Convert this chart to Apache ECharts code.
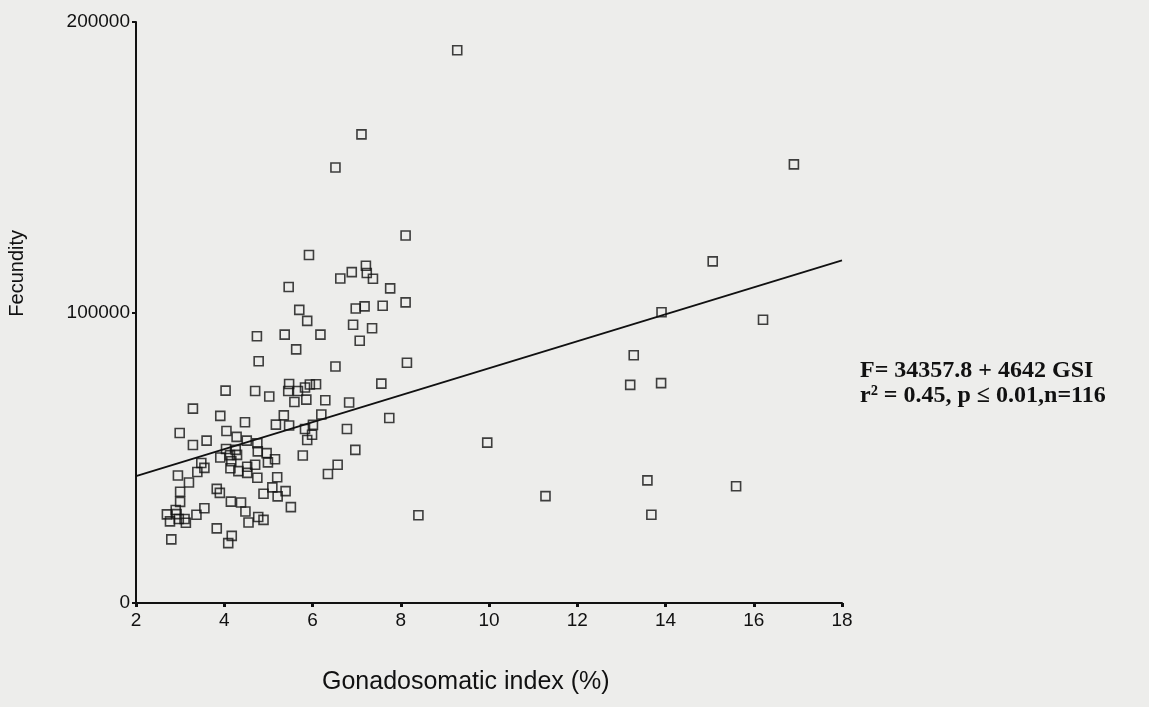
<!DOCTYPE html>
<html>
<head>
<meta charset="utf-8">
<script src="https://cdn.jsdelivr.net/npm/echarts@6/dist/echarts.min.js"></script>
<style>
	html, body { margin: 0; padding: 0; background: #ededeb; }
	#chart { width: 1149px; height: 707px; }
</style>
</head>
<body>
<div id="chart"></div>
<script>
// GSI (%) of each fish
var gsi = [
	9.28, 16.91, 7.11, 6.52, 8.11, 5.92, 5.46, 6.63, 6.89, 7.21,
	7.23, 7.37, 7.76, 5.70, 6.98, 7.18, 7.59, 8.11, 5.88, 6.92,
	7.35, 5.37, 6.18, 7.07, 5.63, 6.52, 8.14, 15.07, 13.91, 16.21,
	13.28, 13.20, 13.90, 9.96, 13.59, 15.60, 11.28, 8.40, 13.68, 4.74,
	4.78, 4.03, 4.70, 5.47, 5.45, 5.67, 5.83, 5.94, 6.08, 7.56,
	5.02, 5.59, 3.29, 3.91, 5.35, 4.47, 5.17, 5.47, 2.99, 4.05,
	3.60, 3.29, 4.28, 4.51, 4.75, 4.04, 4.26, 4.29, 3.91, 4.13,
	4.76, 4.96, 4.99, 5.15, 4.16, 3.48, 3.55, 3.39, 4.14, 4.32,
	4.52, 4.70, 4.52, 2.95, 3.20, 4.75, 5.20, 3.00, 3.83, 3.90,
	4.89, 5.09, 5.21, 5.39, 3.00, 4.15, 4.38, 2.90, 3.55, 3.37,
	4.48, 5.51, 2.70, 2.92, 2.77, 2.97, 3.10, 3.13, 4.77, 4.89,
	4.55, 3.83, 4.17, 4.09, 2.80, 5.86, 6.29, 6.83, 6.20, 7.74,
	5.83, 6.01, 6.78, 5.99, 5.88, 6.97, 5.78, 6.57, 6.35
];

// fecundity, same order as gsi
var fecundity = [
	190300, 151000, 161300, 149900, 126500, 119800, 108800, 111700, 113900, 116100,
	113600, 111600, 108300, 100900, 101400, 102100, 102300, 103500, 97100, 95800,
	94600, 92400, 92400, 90300, 87300, 81400, 82700, 117600, 100100, 97500,
	85300, 75100, 75700, 55200, 42200, 40200, 36800, 30200, 30400, 91800,
	83200, 73100, 73000, 75400, 73000, 73000, 74200, 75200, 75300, 75500,
	71100, 69200, 66900, 64400, 64600, 62200, 61400, 61100, 58500, 59200,
	55900, 54400, 57200, 55900, 55000, 53000, 52700, 51000, 50100, 50900,
	52200, 51600, 48400, 49500, 48800, 48200, 46500, 45100, 46400, 45400,
	46900, 47600, 44800, 43900, 41500, 43100, 43300, 38300, 39300, 37900,
	37600, 39800, 36700, 38500, 34800, 34900, 34600, 32000, 32600, 30400,
	31500, 33000, 30500, 30600, 28100, 28900, 28900, 27600, 29600, 28600,
	27700, 25700, 23100, 20600, 21900, 70000, 69800, 69000, 64900, 63700,
	59900, 61300, 59900, 57900, 56100, 52700, 50800, 47600, 44400
];

// regression F = a + b * GSI
var fitIntercept = 34357.8;
var fitSlope = 4642;
var fitRange = [2, 18];

var equationLines = ['F= 34357.8 + 4642 GSI', 'r\u00B2 = 0.45, p \u2264 0.01,n=116'];

var points = gsi.map(function(g, i) { return [g, fecundity[i]]; });
var fitLine = fitRange.map(function(g) { return [g, fitIntercept + fitSlope * g]; });

var ink = '#111';
var chart = echarts.init(document.getElementById('chart'));

var option = {
	backgroundColor: '#ededeb',
	animation: false,
	grid: { left: 136, right: 307, top: 22, bottom: 104 },
	xAxis: {
		type: 'value',
		min: 2,
		max: 18,
		interval: 2,
		axisLine: { lineStyle: { color: ink, width: 2 } },
		axisTick: { length: 4, lineStyle: { color: ink, width: 3 } },
		axisLabel: { color: ink, fontSize: 19, fontFamily: 'Liberation Sans, Arial', margin: 8 },
		splitLine: { show: false }
	},
	yAxis: {
		type: 'value',
		min: 0,
		max: 200000,
		interval: 100000,
		axisLine: { show: true, lineStyle: { color: ink, width: 2 } },
		axisTick: { show: true, length: 4, lineStyle: { color: ink, width: 2 } },
		axisLabel: {
			color: ink,
			fontSize: 19,
			fontFamily: 'Liberation Sans, Arial',
			margin: 6,
			formatter: function(v) { return String(v); }
		},
		splitLine: { show: false }
	},
	graphic: [
		{
			type: 'text',
			left: 7,
			top: 230,
			style: { text: 'Fecundity', fill: ink, font: '20px "Liberation Sans", Arial' },
			rotation: Math.PI / 2
		},
		{
			type: 'text',
			left: 322,
			top: 670,
			style: { text: 'Gonadosomatic index (%)', fill: ink, font: '25px "Liberation Sans", Arial' }
		},
		{
			type: 'text',
			left: 860,
			top: 358,
			style: {
				text: equationLines.join('\n'),
				fill: ink,
				font: 'bold 24px "Liberation Serif", "Times New Roman"',
				lineHeight: 25
			}
		}
	],
	series: [
		{
			type: 'scatter',
			data: points,
			symbol: 'rect',
			symbolSize: 9,
			itemStyle: { color: 'rgba(0,0,0,0)', borderColor: ink, borderWidth: 1.6 }
		},
		{
			type: 'line',
			data: fitLine,
			symbol: 'none',
			lineStyle: { color: ink, width: 1.8 }
		}
	]
};

chart.setOption(option);
</script>
</body>
</html>
